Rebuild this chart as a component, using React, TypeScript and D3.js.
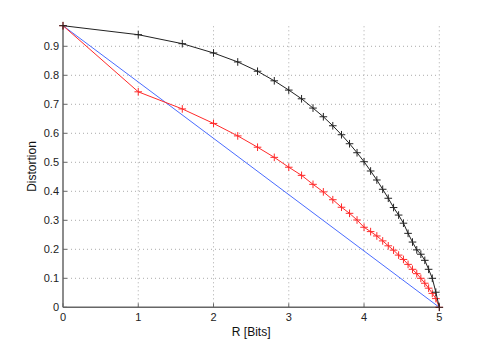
import * as d3 from "d3";

// rate points R = log2(k), k = 1..32
const levels = d3.range(1, 33);
const rate = levels.map((k) => Math.log2(k));

// distortion, one value per rate point
const blackD = [
  0.971, 0.94, 0.909, 0.877, 0.846, 0.814, 0.781, 0.749, 0.719, 0.687, 0.657,
  0.626, 0.595, 0.564, 0.533, 0.502, 0.47, 0.439, 0.407, 0.376, 0.344, 0.318,
  0.29, 0.255, 0.225, 0.198, 0.183, 0.162, 0.131, 0.1, 0.052, 0,
];
const redD = [
  0.971, 0.743, 0.684, 0.634, 0.591, 0.552, 0.517, 0.483, 0.455, 0.424, 0.398,
  0.371, 0.345, 0.324, 0.301, 0.276, 0.261, 0.246, 0.229, 0.212, 0.197, 0.18,
  0.165, 0.148, 0.131, 0.116, 0.1, 0.083, 0.066, 0.048, 0.03, 0,
];
const blueR = [0, 5];
const blueD = [0.971, 0];

const xTicks = [0, 1, 2, 3, 4, 5];
const yTicks = [0, 0.1, 0.2, 0.3, 0.4, 0.5, 0.6, 0.7, 0.8, 0.9];

const W = 485;
const H = 346;

export default function App() {
  const x = d3.scaleLinear().domain([0, 5]).range([63, 439.3]);
  const y = d3.scaleLinear().domain([0, 0.971]).range([307.3, 25.7]);

  const line = d3
    .line<[number, number]>()
    .x((d) => x(d[0]))
    .y((d) => y(d[1]));

  const black = rate.map((r, i) => [r, blackD[i]] as [number, number]);
  const red = rate.map((r, i) => [r, redD[i]] as [number, number]);
  const blue = blueR.map((r, i) => [r, blueD[i]] as [number, number]);

  const plus = (pts: [number, number][], s = 3.8) =>
    pts
      .map(
        (d) =>
          `M${x(d[0]) - s},${y(d[1])}h${2 * s}M${x(d[0])},${y(d[1]) - s}v${2 * s}`
      )
      .join("");

  const font = "'Liberation Sans', Arial, Helvetica, sans-serif";
  const [x0, x1] = x.range();
  const [y0, y1] = y.range();

  return (
    <svg
      width={W}
      height={H}
      style={{ position: "absolute", left: 0, top: 0, background: "#fff" }}
      fontFamily={font}
    >
      {/* grid */}
      <g stroke="#aaa" strokeWidth={1} strokeDasharray="1 3">
        {yTicks
          .filter((t) => t > 0)
          .map((t) => (
            <line key={"gy" + t} x1={x0} x2={x1} y1={y(t)} y2={y(t)} />
          ))}
        {xTicks
          .filter((t) => t > 0)
          .map((t) => (
            <line key={"gx" + t} x1={x(t)} x2={x(t)} y1={y0} y2={y1} />
          ))}
      </g>

      {/* axes */}
      <g stroke="#666" strokeWidth={1.5}>
        <line x1={x0} x2={x0} y1={y0} y2={y1} />
        <line x1={x0} x2={x1} y1={y0} y2={y0} />
        {yTicks.map((t) => (
          <line key={"ty" + t} x1={x0} x2={x0 + 4} y1={y(t)} y2={y(t)} strokeWidth={1} />
        ))}
        {xTicks.map((t) => (
          <line key={"tx" + t} x1={x(t)} x2={x(t)} y1={y0} y2={y0 - 4} strokeWidth={1} />
        ))}
      </g>

      {/* curves */}
      <path d={line(blue) ?? ""} fill="none" stroke="#4a6cff" strokeWidth={1} />
      <path d={line(red) ?? ""} fill="none" stroke="#ff2a2a" strokeWidth={1} />
      <path d={plus(red)} fill="none" stroke="#ff2a2a" strokeWidth={1} />
      <path d={line(black) ?? ""} fill="none" stroke="#222" strokeWidth={1} />
      <path d={plus(black)} fill="none" stroke="#222" strokeWidth={1} />

      {/* tick labels */}
      <g fontSize={11} fill="#222">
        {yTicks.map((t) => (
          <text key={"ly" + t} x={x0 - 4} y={y(t)} dy="0.35em" textAnchor="end">
            {d3.format("~g")(t)}
          </text>
        ))}
        {xTicks.map((t) => (
          <text key={"lx" + t} x={x(t)} y={y0 + 13.5} textAnchor="middle">
            {t}
          </text>
        ))}
      </g>

      {/* axis titles */}
      <text x={(x0 + x1) / 2} y={335.5} textAnchor="middle" fontSize={12} fill="#111">
        R [Bits]
      </text>
      <text
        transform={`translate(36,${(y0 + y1) / 2}) rotate(-90)`}
        textAnchor="middle"
        fontSize={12}
        fill="#111"
      >
        Distortion
      </text>
    </svg>
  );
}
